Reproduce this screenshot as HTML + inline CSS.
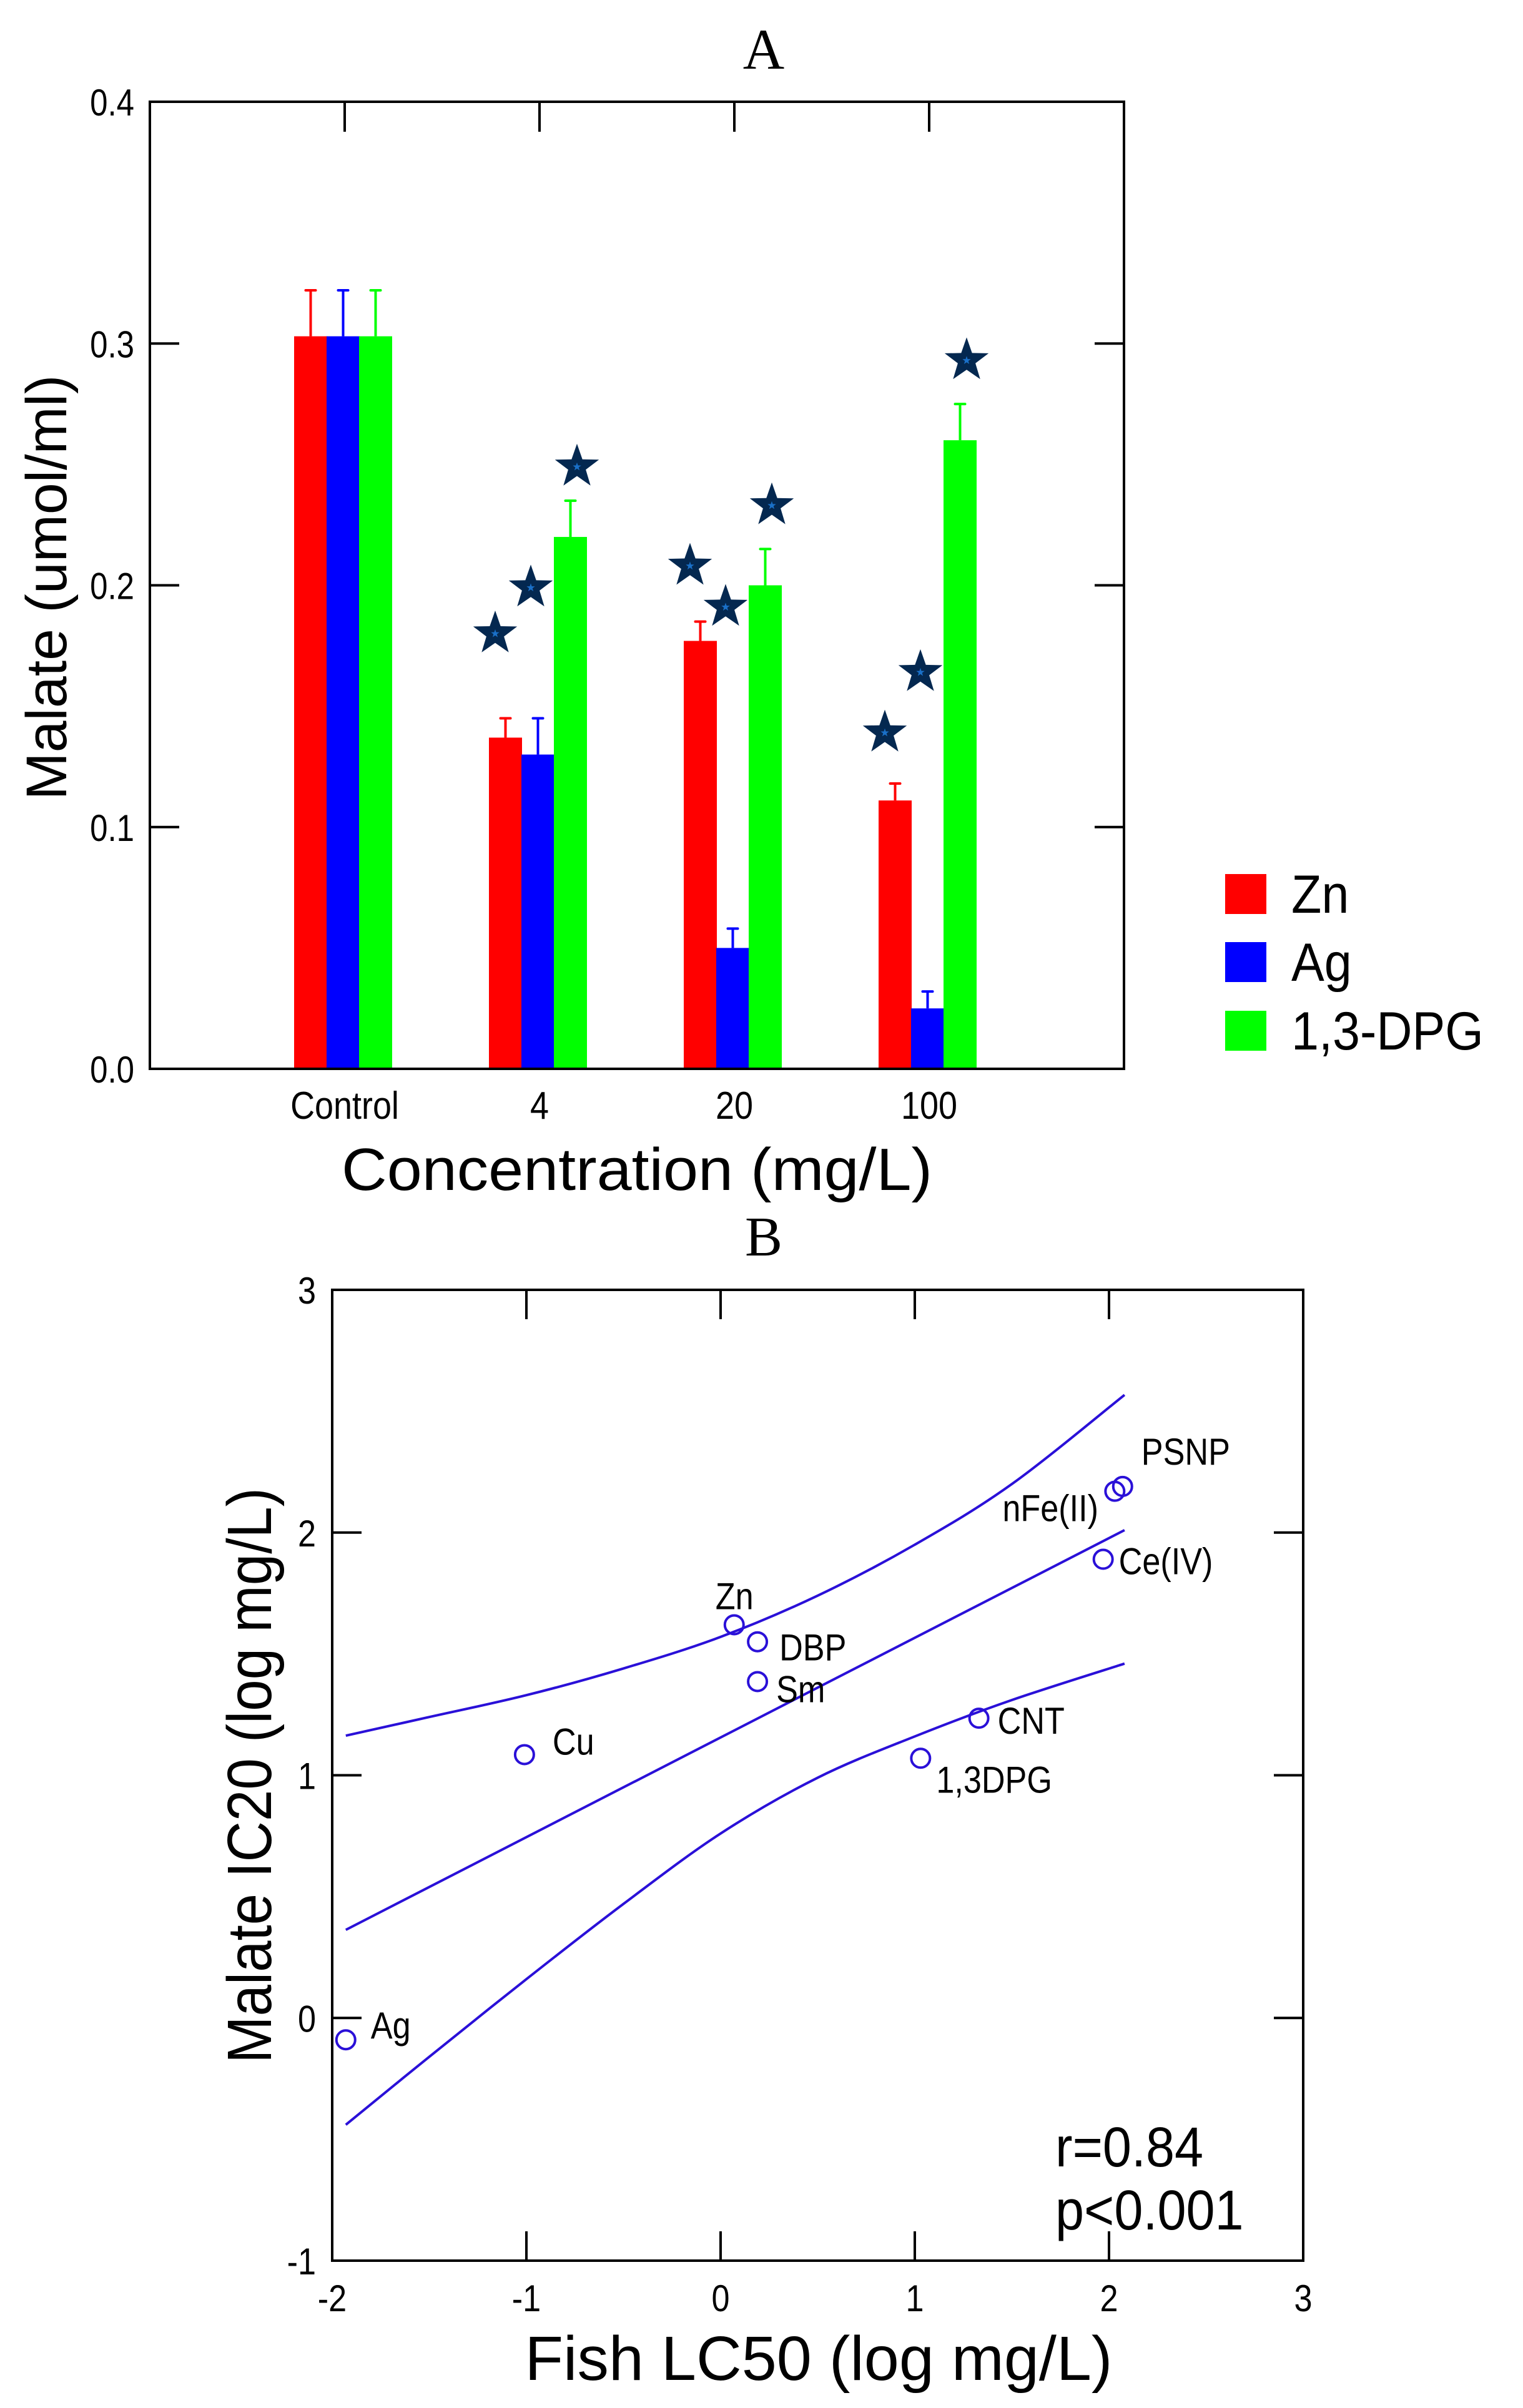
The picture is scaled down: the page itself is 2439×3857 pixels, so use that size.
<!DOCTYPE html>
<html><head><meta charset="utf-8"><style>
html,body{margin:0;padding:0;background:#fff;}
svg{display:block;}
text{font-family:"Liberation Sans",sans-serif;fill:#000;}
text.serif{font-family:"Liberation Serif",serif;}
</style></head>
<body>
<svg id="fig" width="2439" height="3857" viewBox="0 0 2439 3857" xmlns="http://www.w3.org/2000/svg">
<g id="pa"></g>
<g id="pb"></g>
</svg>
<script>
// ---------- Panel A data ----------
const categories = ["Control", "4", "20", "100"];
const seriesNames = ["Zn", "Ag", "1,3-DPG"];
const znValues = [0.303, 0.137, 0.177, 0.111];
const agValues = [0.303, 0.130, 0.050, 0.025];
const dpgValues = [0.303, 0.220, 0.200, 0.260];
const znErr = [0.019, 0.008, 0.008, 0.007];
const agErr = [0.019, 0.015, 0.008, 0.007];
const dpgErr = [0.019, 0.015, 0.015, 0.015];
const znStars = [null, 0.180, 0.208, 0.139];
const agStars = [null, 0.199, 0.191, 0.164];
const dpgStars = [null, 0.249, 0.233, 0.293];
const yTicksA = [0.0, 0.1, 0.2, 0.3, 0.4];
const yTickLabelsA = ["0.0", "0.1", "0.2", "0.3", "0.4"];

// ---------- Panel B data ----------
const pointLabels = ["Ag","Cu","Zn","DBP","Sm","CNT","1,3DPG","Ce(IV)","nFe(II)","PSNP"];
const fishLC50 = [-1.93, -1.01, 0.07, 0.19, 0.19, 1.33, 1.03, 1.97, 2.03, 2.07];
const malateIC20 = [-0.09, 1.085, 1.62, 1.55, 1.386, 1.235, 1.07, 1.89, 2.17, 2.19];
const fitX = [-1.93, 2.08];
const fitY = [0.363, 2.01];
const bandX = [-1.93, -1.5, -1, -0.5, 0, 0.5, 1, 1.5, 2.08];
const bandUpper = [1.163, 1.24, 1.33, 1.44, 1.57, 1.74, 1.95, 2.2, 2.567];
const bandLower = [-0.44, -0.16, 0.16, 0.47, 0.76, 0.99, 1.16, 1.31, 1.46];
const xTicksB = [-2, -1, 0, 1, 2, 3];
const yTicksB = [-1, 0, 1, 2, 3];

const NS = "http://www.w3.org/2000/svg";
function mk(parent, tag, attrs) {
  const e = document.createElementNS(NS, tag);
  for (const k in attrs) e.setAttribute(k, attrs[k]);
  parent.appendChild(e);
  return e;
}
function txt(parent, x, y, s, size, anchor, sx, extra) {
  const t = document.createElementNS(NS, "text");
  t.setAttribute("transform", "translate(" + x + "," + y + ") scale(" + sx + ",1)");
  t.setAttribute("font-size", size);
  t.setAttribute("text-anchor", anchor);
  if (extra) for (const k in extra) t.setAttribute(k, extra[k]);
  t.textContent = s;
  parent.appendChild(t);
  return t;
}

// ================= Panel A =================
const pa = document.getElementById("pa");
const AL = 240, AR = 1800, AT = 163, AB = 1712;
const ax = i => AL + (AR - AL) / 5 * (i + 1);
const ay = v => AB - (v / 0.4) * (AB - AT);

let t = txt(pa, 1223, 110, "A", 92, "middle", 1, {"class": "serif"});



const seriesVals = [znValues, agValues, dpgValues];
const seriesErr = [znErr, agErr, dpgErr];
const seriesStars = [znStars, agStars, dpgStars];
const colors = ["#ff0000", "#0000ff", "#00ff00"];
const barOff = [-81, -29, 23];
const barW = 53;
const starOff = [-71, -14, 60];

function starPath(cx, cy, R) {
  let d = "";
  for (let k = 0; k < 10; k++) {
    const r = k % 2 === 0 ? R : R * 0.4;
    const a = -Math.PI / 2 + k * Math.PI / 5;
    d += (k ? "L" : "M") + (cx + r * Math.cos(a)).toFixed(1) + "," + (cy + r * Math.sin(a)).toFixed(1);
  }
  return d + "Z";
}

for (let s = 0; s < 3; s++) {
  for (let i = 0; i < categories.length; i++) {
    const v = seriesVals[s][i];
    const x0 = ax(i) + barOff[s];
    const cx = x0 + barW / 2;
    const eTop = ay(v + seriesErr[s][i]);
    const el = mk(pa, "line", {x1: cx, y1: ay(v), x2: cx, y2: eTop, stroke: colors[s], "stroke-width": 4});
    
    
    const cap = mk(pa, "line", {x1: cx - 8, y1: eTop, x2: cx + 8, y2: eTop, stroke: colors[s], "stroke-width": 4, "stroke-linecap": "round"});
    
    
    const r = mk(pa, "rect", {x: x0, y: ay(v), width: barW, height: AB - ay(v), fill: colors[s]});
    
    
    const sv = seriesStars[s][i];
    if (sv !== null) {
      const g = mk(pa, "g", {});
      
      
      mk(g, "path", {d: starPath(ax(i) + starOff[s], ay(sv), 37), fill: "#042850"});
      mk(g, "path", {d: starPath(ax(i) + starOff[s], ay(sv), 7), fill: "#1a70c8"});
    }
  }
}

// frame & ticks A
const fa = mk(pa, "rect", {x: AL, y: AT, width: AR - AL, height: AB - AT, fill: "none", stroke: "#000", "stroke-width": 4});


for (let i = 0; i < categories.length; i++) {
  const tk = mk(pa, "line", {x1: ax(i), y1: AT, x2: ax(i), y2: AT + 48, stroke: "#000", "stroke-width": 4});
  
  
  const lb = txt(pa, ax(i), 1792, categories[i], 62, "middle", 0.87);
  
  
}
for (let i = 0; i < yTicksA.length; i++) {
  const y = ay(yTicksA[i]);
  if (i > 0 && i < yTicksA.length - 1) {
    const l1 = mk(pa, "line", {x1: AL, y1: y, x2: AL + 47, y2: y, stroke: "#000", "stroke-width": 4});
    
    
    const l2 = mk(pa, "line", {x1: AR - 47, y1: y, x2: AR, y2: y, stroke: "#000", "stroke-width": 4});
    
    
  }
  const lb = txt(pa, 215, y + 22, yTickLabelsA[i], 60, "end", 0.85);
  
  
}
t = txt(pa, 0, 0, "Malate (umol/ml)", 92, "middle", 1, {textLength: 681, lengthAdjust: "spacingAndGlyphs"});
t.setAttribute("transform", "translate(106,941) rotate(-90)");


t = txt(pa, 1020, 1906, "Concentration (mg/L)", 96, "middle", 1, {textLength: 946, lengthAdjust: "spacingAndGlyphs"});



// legend
const legY = [1400, 1509, 1619];
for (let s = 0; s < 3; s++) {
  const g = mk(pa, "g", {});
  
  
  mk(g, "rect", {x: 1962, y: legY[s], width: 66, height: 64, fill: colors[s]});
  txt(g, 2068, legY[s] + 62, seriesNames[s], 86, "start", 0.92);
}

// ================= Panel B =================
const pb = document.getElementById("pb");
const BL = 532, BR = 2087, BT = 2066, BB = 3621;
const bx = v => BL + (v + 2) / 5 * (BR - BL);
const by = v => BB - (v + 1) / 4 * (BB - BT);
const blue = "#2a10d8";

t = txt(pb, 1223, 2011, "B", 90, "middle", 1, {"class": "serif"});



function smooth(xs, ys) {
  const P = xs.map((x, i) => [bx(x), by(ys[i])]);
  let d = "M" + P[0][0].toFixed(1) + "," + P[0][1].toFixed(1);
  for (let i = 0; i < P.length - 1; i++) {
    const p0 = P[Math.max(0, i - 1)], p1 = P[i], p2 = P[i + 1], p3 = P[Math.min(P.length - 1, i + 2)];
    const c1 = [p1[0] + (p2[0] - p0[0]) / 6, p1[1] + (p2[1] - p0[1]) / 6];
    const c2 = [p2[0] - (p3[0] - p1[0]) / 6, p2[1] - (p3[1] - p1[1]) / 6];
    d += "C" + c1[0].toFixed(1) + "," + c1[1].toFixed(1) + " " + c2[0].toFixed(1) + "," + c2[1].toFixed(1) + " " + p2[0].toFixed(1) + "," + p2[1].toFixed(1);
  }
  return d;
}
let p = mk(pb, "path", {d: smooth(bandX, bandUpper), fill: "none", stroke: blue, "stroke-width": 4});


p = mk(pb, "path", {d: smooth(bandX, bandLower), fill: "none", stroke: blue, "stroke-width": 4});


p = mk(pb, "path", {d: smooth(fitX, fitY), fill: "none", stroke: blue, "stroke-width": 4});



const labOff = [[40, -2], [45, 0], [-30, -25], [35, 30], [30, 33], [30, 25], [25, 55], [25, 24], [-180, 48], [30, -35]];
for (let i = 0; i < fishLC50.length; i++) {
  const c = mk(pb, "circle", {cx: bx(fishLC50[i]), cy: by(malateIC20[i]), r: 15, fill: "none", stroke: blue, "stroke-width": 4});
  
  
  const lb = txt(pb, bx(fishLC50[i]) + labOff[i][0], by(malateIC20[i]) + labOff[i][1], pointLabels[i], 60, "start", 0.87);
  
  
}

const fb = mk(pb, "rect", {x: BL, y: BT, width: BR - BL, height: BB - BT, fill: "none", stroke: "#000", "stroke-width": 4});


for (let i = 0; i < xTicksB.length; i++) {
  const x = bx(xTicksB[i]);
  if (i > 0 && i < xTicksB.length - 1) {
    let l = mk(pb, "line", {x1: x, y1: BT, x2: x, y2: BT + 47, stroke: "#000", "stroke-width": 4});
    
    
    l = mk(pb, "line", {x1: x, y1: BB - 47, x2: x, y2: BB, stroke: "#000", "stroke-width": 4});
    
    
  }
  const lb = txt(pb, x, 3702, String(xTicksB[i]), 60, "middle", 0.87);
  
  
}
for (let i = 0; i < yTicksB.length; i++) {
  const y = by(yTicksB[i]);
  if (i > 0 && i < yTicksB.length - 1) {
    let l = mk(pb, "line", {x1: BL, y1: y, x2: BL + 47, y2: y, stroke: "#000", "stroke-width": 4});
    
    
    l = mk(pb, "line", {x1: BR - 47, y1: y, x2: BR, y2: y, stroke: "#000", "stroke-width": 4});
    
    
  }
  const lb = txt(pb, 506, y + 22, String(yTicksB[i]), 60, "end", 0.87);
  
  
}
t = txt(pb, 0, 0, "Malate IC20 (log mg/L)", 100, "middle", 1, {textLength: 922, lengthAdjust: "spacingAndGlyphs"});
t.setAttribute("transform", "translate(434,2844) rotate(-90)");


t = txt(pb, 1311, 3812, "Fish LC50 (log mg/L)", 100, "middle", 1, {textLength: 941, lengthAdjust: "spacingAndGlyphs"});


t = txt(pb, 1690, 3470, "r=0.84", 90, "start", 0.92);


t = txt(pb, 1690, 3571, "p<0.001", 90, "start", 0.92);


</script>
</body></html>
